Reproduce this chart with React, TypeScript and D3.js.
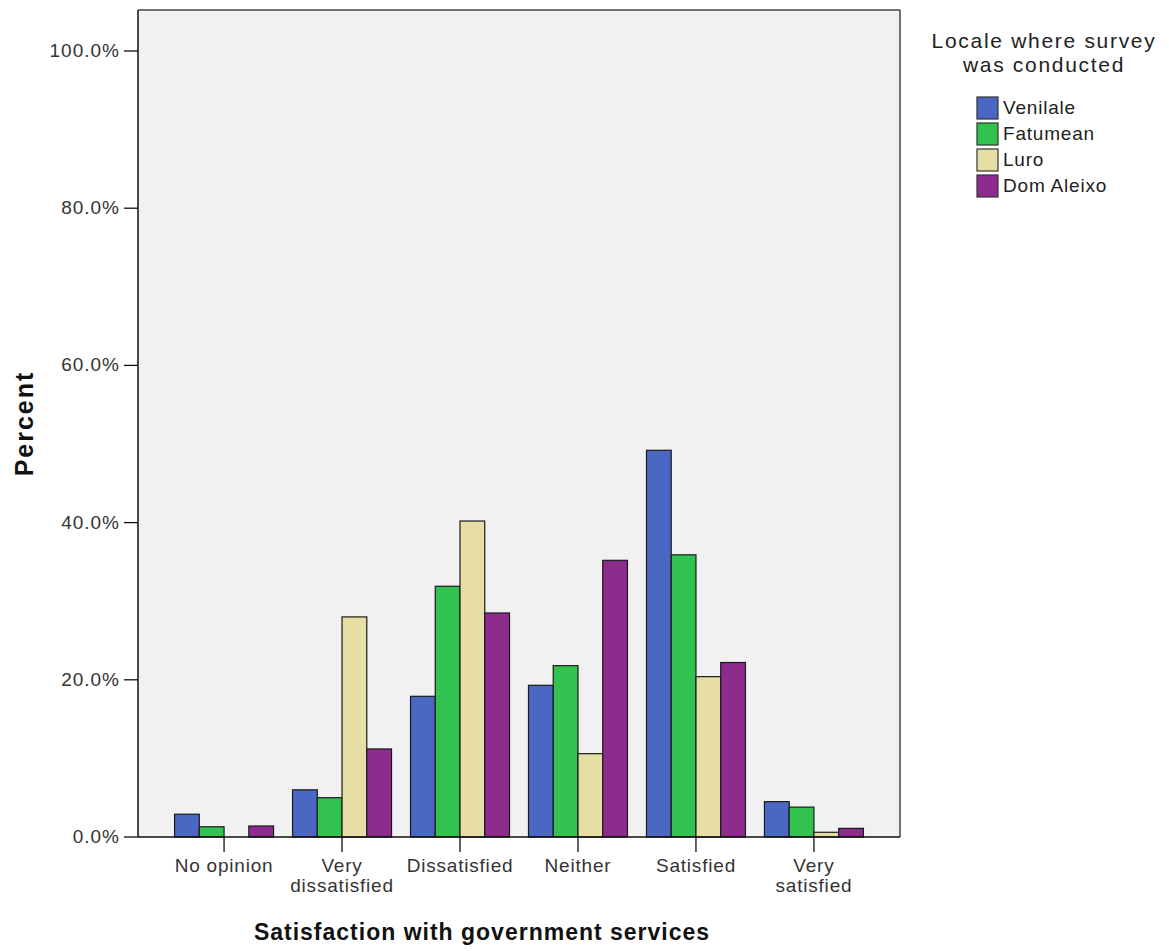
import React from "react";
import * as d3 from "d3";

const categories = ["No opinion", "Very dissatisfied", "Dissatisfied", "Neither", "Satisfied", "Very satisfied"];
const categoryLines = [["No opinion"], ["Very", "dissatisfied"], ["Dissatisfied"], ["Neither"], ["Satisfied"], ["Very", "satisfied"]];
const seriesNames = ["Venilale", "Fatumean", "Luro", "Dom Aleixo"];
const venilale = [2.9, 6.0, 17.9, 19.3, 49.2, 4.5];
const fatumean = [1.3, 5.0, 31.9, 21.8, 35.9, 3.8];
const luro = [0, 28.0, 40.2, 10.6, 20.4, 0.6];
const domAleixo = [1.4, 11.2, 28.5, 35.2, 22.2, 1.1];
const yTicks = [0, 20, 40, 60, 80, 100];
const colors = ["#4a67c4", "#31c24f", "#e6dea4", "#8e2c8e"];

const seriesValues = [venilale, fatumean, luro, domAleixo];

export default function App() {
  const W = 1169, H = 951;
  const left = 138, right = 900, top = 10, bottom = 837;
  const y = d3.scaleLinear().domain([0, 100]).range([bottom, 51]);
  const x0 = d3.scaleBand<string>().domain(categories).range([left, right]).paddingInner(0.161).paddingOuter(0.31);
  const x1 = d3.scaleBand<string>().domain(seriesNames).range([0, x0.bandwidth()]).padding(0);
  const font = "'Liberation Sans', Arial, sans-serif";

  return (
    <svg width={W} height={H} style={{ display: "block", position: "absolute", left: 0, top: 0 }} fontFamily={font}>
      <rect x={0} y={0} width={W} height={H} fill="#ffffff" />
      <rect x={left} y={top} width={right - left} height={bottom - top} fill="#f1f1f1" stroke="none" />
      {/* bars */}
      {categories.map((c, ci) => (
        <g key={c} transform={`translate(${x0(c)},0)`}>
          {seriesNames.map((s, si) => {
            const v = seriesValues[si][ci];
            if (v <= 0) return null;
            return (
              <rect key={s} x={x1(s)} y={y(v)} width={x1.bandwidth()} height={bottom - y(v)}
                fill={colors[si]} stroke="#1a1a1a" strokeWidth={1.2} />
            );
          })}
        </g>
      ))}
      {/* frame */}
      <line x1={left} y1={top} x2={right} y2={top} stroke="#444" strokeWidth={1.5} />
      <line x1={right} y1={top} x2={right} y2={bottom} stroke="#444" strokeWidth={1.5} />
      <line x1={left} y1={top} x2={left} y2={bottom} stroke="#111" strokeWidth={1.5} />
      <line x1={left} y1={bottom} x2={right} y2={bottom} stroke="#111" strokeWidth={1.5} />
      {/* y ticks */}
      {yTicks.map(t => (
        <g key={t}>
          <line x1={left - 14} x2={left} y1={y(t)} y2={y(t)} stroke="#111" strokeWidth={1.3} />
          <text x={left - 18} y={y(t) + 6} textAnchor="end" fontSize={19} fill="#333" letterSpacing={1}>
            {d3.format(".1f")(t) + "%"}
          </text>
        </g>
      ))}
      {/* x ticks */}
      {categories.map((c, ci) => {
        const cx = (x0(c) as number) + x0.bandwidth() / 2;
        return (
          <g key={c}>
            <line x1={cx} x2={cx} y1={bottom} y2={bottom + 15} stroke="#111" strokeWidth={1.3} />
            {categoryLines[ci].map((ln, li) => (
              <text key={li} x={cx} y={872 + li * 20} textAnchor="middle" fontSize={19} fill="#333" letterSpacing={0.8}>{ln}</text>
            ))}
          </g>
        );
      })}
      {/* axis titles */}
      <text transform={`translate(33,${(top + bottom) / 2}) rotate(-90)`} textAnchor="middle" fontSize={25} fontWeight="bold" fill="#111" letterSpacing={2}>Percent</text>
      <text x={482} y={940} textAnchor="middle" fontSize={23} fontWeight="bold" fill="#111" letterSpacing={1}>Satisfaction with government services</text>
      {/* legend */}
      <text x={1044} y={48} textAnchor="middle" fontSize={21} fill="#222" letterSpacing={1.7}>Locale where survey</text>
      <text x={1044} y={72} textAnchor="middle" fontSize={21} fill="#222" letterSpacing={1.7}>was conducted</text>
      {seriesNames.map((s, i) => (
        <g key={s}>
          <rect x={977} y={97 + i * 26} width={21} height={22} fill={colors[i]} stroke="#333" strokeWidth={1.2} />
          <text x={1003} y={114 + i * 26} fontSize={19} fill="#222" letterSpacing={0.8}>{s}</text>
        </g>
      ))}
    </svg>
  );
}
